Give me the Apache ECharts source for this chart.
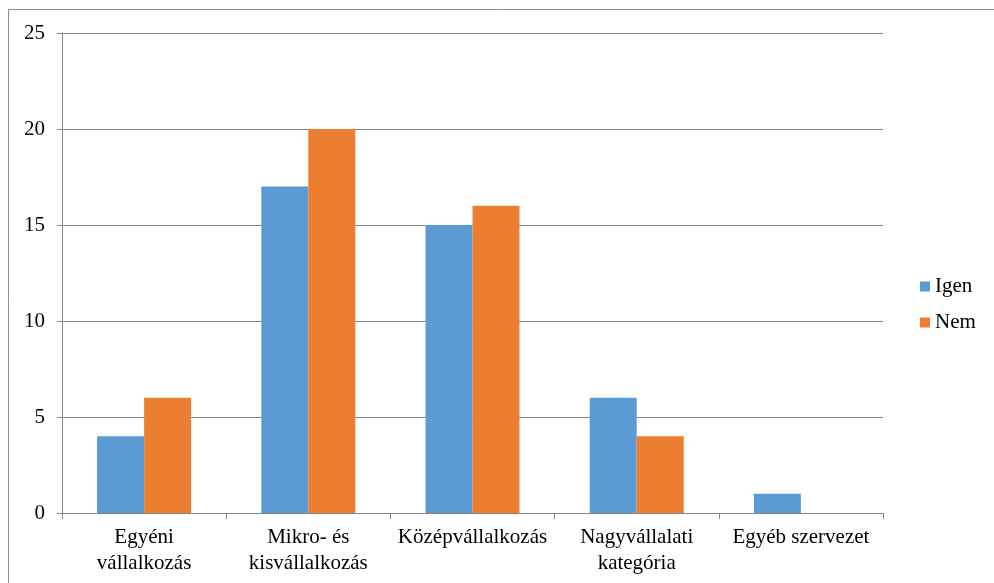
<!DOCTYPE html>
<html><head><meta charset="utf-8">
<script src="https://cdn.jsdelivr.net/npm/echarts@6/dist/echarts.min.js"></script>
<style>html,body{margin:0;padding:0;background:#fff}#c{width:994px;height:583px}</style>
</head><body><div id="c"></div>
<script>
const categories = ['Egyéni\nvállalkozás', 'Mikro- és\nkisvállalkozás', 'Középvállalkozás', 'Nagyvállalati\nkategória', 'Egyéb szervezet'];
const igen = [4, 17, 15, 6, 1];
const nem = [6, 20, 16, 4, 0];
const yTicks = {min: 0, max: 25, interval: 5};
const font = 'Liberation Serif';
const chart = echarts.init(document.getElementById('c'));
chart.setOption({
  animation: false,
  textStyle: {fontFamily: font},
  graphic: [{type: 'rect', shape: {x: 8.5, y: 9.5, width: 1000, height: 600}, style: {fill: 'none', stroke: '#8c8c8c', lineWidth: 1}, z: -1}],
  grid: {left: 62, top: 33, width: 821, height: 480, containLabel: false},
  legend: {orient: 'vertical', left: 915, top: 271, itemWidth: 10, itemHeight: 10, itemGap: 15, icon: 'rect',
    textStyle: {fontFamily: font, fontSize: 21, color: '#000'}, data: ['Igen', 'Nem']},
  xAxis: {type: 'category', data: categories,
    axisLine: {lineStyle: {color: '#868686'}},
    axisTick: {show: true, length: 6, lineStyle: {color: '#868686'}},
    axisLabel: {fontFamily: font, fontSize: 21, color: '#000', lineHeight: 26, margin: 11, interval: 0}},
  yAxis: {type: 'value', min: yTicks.min, max: yTicks.max, interval: yTicks.interval,
    axisLine: {show: true, lineStyle: {color: '#868686'}},
    axisTick: {show: true, length: 5, lineStyle: {color: '#868686'}},
    splitLine: {lineStyle: {color: '#868686'}},
    axisLabel: {fontFamily: font, fontSize: 21, color: '#000', margin: 17}},
  series: [
    {name: 'Igen', type: 'bar', data: igen, barWidth: 47, barGap: '0%', itemStyle: {color: '#5B9BD5'}},
    {name: 'Nem', type: 'bar', data: nem, barWidth: 47, barGap: '0%', itemStyle: {color: '#ED7D31'}}
  ]
});
</script></body></html>
